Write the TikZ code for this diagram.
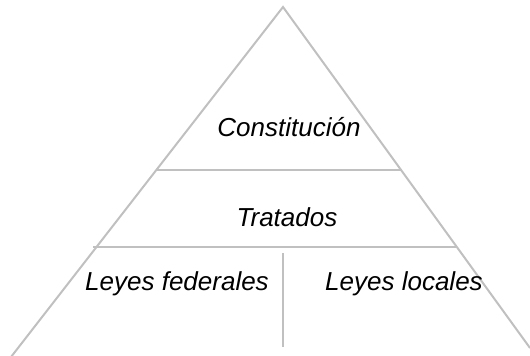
\documentclass[tikz,border=0pt]{standalone}
\usepackage{fontspec}
\setmainfont{Liberation Sans}
\definecolor{pyrgray}{RGB}{192,192,192}
\tikzset{
  pyrline/.style={draw=pyrgray, line width=2pt},
  pyrtext/.style={inner sep=0.75pt, font=\fontsize{26}{30}\selectfont\itshape}
}
\begin{document}
\begin{tikzpicture}[x=1pt,y=1pt,yscale=-1]
\useasboundingbox (0,0) rectangle (530,356);

% Corners
\coordinate (apex) at (283,7);
\coordinate (baseL) at (11,357);
\coordinate (baseR) at (530,348);
\coordinate (tierAL) at (156,170);
\coordinate (tierAR) at (401,170);
\coordinate (tierBL) at (93,247);
\coordinate (tierBR) at (457,247);
\coordinate (splitT) at (283,253);
\coordinate (splitB) at (283,347);

%Straight Lines (sides)
\draw [pyrline] (baseL) -- (apex) -- (baseR) ;
%Straight Lines (tiers)
\draw [pyrline] (tierAL) -- (tierAR) ;
\draw [pyrline] (tierBL) -- (tierBR) ;
%Straight Lines (split)
\draw [pyrline] (splitT) -- (splitB) ;

% Text Node
\node [pyrtext] (constitucion) at (289,127) {Constitución};
% Text Node
\node [pyrtext] (tratados) at (287,217) {Tratados};
% Text Node
\node [pyrtext] (federales) at (177,284) {Leyes federales};
% Text Node
\node [pyrtext] (locales) at (404,284) {Leyes locales};

\end{tikzpicture}
\end{document}
